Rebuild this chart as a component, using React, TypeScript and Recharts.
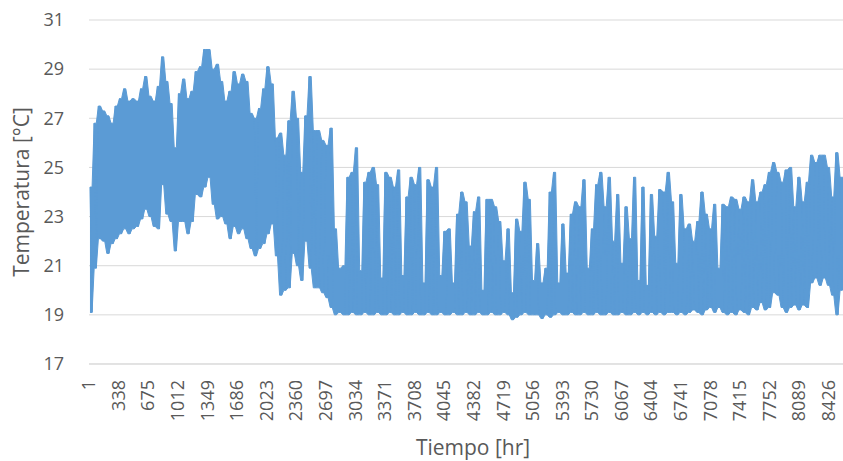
import React from 'react'
import { ComposedChart, Area, Line, CartesianGrid, XAxis, YAxis, Label } from 'recharts'

// un valor máximo y uno mínimo por cada ventana de 48 horas
const PASO = 48

const picos = [
  24.2, 26.8, 27.5, 27.3, 27.1, 26.8, 27.5, 27.8, 28.2, 27.7,
  27.8, 27.7, 28.2, 28.7, 27.9, 27.7, 28.3, 29.5, 28.5, 27.6,
  25.8, 28.0, 28.6, 27.8, 28.1, 28.9, 29.1, 29.8, 29.8, 29.0,
  29.2, 28.5, 27.7, 28.1, 28.9, 28.4, 28.8, 28.5, 27.2, 27.0,
  27.4, 28.2, 29.1, 28.4, 26.2, 26.4, 25.5, 26.9, 28.1, 27.0,
  24.8, 27.1, 28.7, 26.5, 26.5, 26.1, 25.9, 26.6, 22.5, 20.9,
  21.0, 24.6, 24.8, 25.8, 20.8, 24.4, 24.8, 25.0, 24.3, 20.5,
  24.8, 24.6, 24.2, 24.9, 20.6, 23.8, 24.6, 24.3, 25.0, 20.3,
  24.5, 24.2, 25.0, 20.6, 22.4, 22.5, 20.3, 23.1, 24.0, 23.6,
  21.8, 23.2, 23.8, 20.0, 23.7, 23.7, 23.4, 22.8, 21.2, 22.5,
  19.9, 22.9, 22.4, 24.4, 23.7, 20.4, 21.9, 20.3, 20.9, 24.0,
  24.8, 20.3, 22.7, 20.7, 23.1, 23.6, 23.4, 24.5, 20.9, 22.5,
  24.3, 24.8, 23.4, 24.6, 22.0, 23.9, 21.1, 23.4, 22.1, 24.6,
  20.4, 24.2, 20.2, 23.9, 22.2, 24.1, 24.0, 24.8, 23.6, 21.1,
  23.9, 22.5, 22.7, 22.0, 22.8, 24.0, 23.1, 22.5, 23.5, 20.9,
  23.5, 23.4, 23.8, 23.7, 23.3, 23.8, 23.6, 24.5, 23.6, 24.0,
  24.3, 24.8, 25.2, 24.8, 24.4, 24.9, 25.0, 23.4, 24.6, 23.6,
  24.4, 25.5, 25.2, 25.5, 25.5, 25.0, 23.8, 25.6, 24.6, 24.6,
  24.5, 25.0, 24.2,
]

const valles = [
  19.1, 20.9, 22.1, 22.0, 21.5, 21.9, 22.1, 22.3, 22.5, 22.3,
  22.5, 22.6, 22.9, 23.3, 23.0, 22.6, 22.5, 24.3, 23.1, 22.8,
  21.6, 22.8, 22.8, 22.3, 22.8, 23.9, 23.8, 24.2, 24.6, 23.5,
  22.9, 23.0, 22.7, 22.1, 22.6, 22.3, 22.5, 22.1, 21.7, 21.4,
  21.7, 21.9, 22.3, 22.7, 21.4, 19.8, 20.0, 20.1, 21.5, 21.0,
  20.4, 22.0, 20.9, 20.1, 20.1, 19.9, 19.7, 19.3, 19.0, 19.1,
  19.0, 19.0, 19.1, 19.0, 19.0, 19.1, 19.0, 19.0, 19.1, 19.0,
  19.0, 19.1, 19.0, 19.0, 19.1, 19.0, 19.0, 19.1, 19.0, 19.0,
  19.1, 19.0, 19.0, 19.1, 19.0, 19.0, 19.1, 19.0, 19.0, 19.1,
  19.0, 19.0, 19.1, 19.0, 19.0, 19.1, 19.0, 19.0, 19.1, 19.0,
  18.8, 18.9, 19.0, 19.1, 19.0, 19.0, 19.0, 18.85, 19.0, 18.9,
  19.0, 19.1, 19.0, 19.0, 19.1, 19.0, 19.0, 19.1, 19.0, 19.0,
  19.1, 19.0, 19.0, 19.1, 19.0, 19.0, 19.1, 19.0, 19.0, 19.1,
  19.0, 19.1, 19.0, 19.1, 19.0, 19.1, 19.0, 19.1, 19.1, 19.0,
  19.1, 19.0, 19.1, 19.2, 19.1, 19.0, 19.2, 19.3, 19.1, 19.3,
  19.1, 19.0, 19.1, 19.0, 19.2, 19.1, 19.0, 19.3, 19.2, 19.5,
  19.2, 19.3, 19.9, 19.8, 19.3, 19.1, 19.3, 19.4, 19.2, 19.4,
  19.3, 20.3, 20.5, 20.2, 20.5, 20.2, 19.8, 19.0, 20.0, 20.2,
  19.8, 19.5, 19.6,
]

const marcasX = [
  1, 338, 675, 1012, 1349, 1686, 2023, 2360, 2697, 3034, 3371, 3708, 4045,
  4382, 4719, 5056, 5393, 5730, 6067, 6404, 6741, 7078, 7415, 7752, 8089, 8426,
]
const marcasY = [17, 19, 21, 23, 25, 27, 29, 31]

// la línea horaria va de máximo a mínimo en cada ventana; la banda rellena entre ambos
const serie = picos.flatMap((p, i) => [
  { hora: i * PASO + 12, temp: p, banda: [valles[i], p] },
  { hora: i * PASO + 36, temp: valles[i], banda: [valles[i], p] },
])

const FUENTE = '"Open Sans", sans-serif'
const GRIS = '#595959'
const AZUL = '#5B9BD5'

const TickX = ({ x, payload }: any) => (
  <text
    x={x}
    y={380}
    transform={`rotate(-90 ${x} 380)`}
    textAnchor="end"
    dy="0.35em"
    fontSize={18}
    fontFamily={FUENTE}
    fill={GRIS}
  >
    {payload.value}
  </text>
)

const TickY = ({ y, payload }: any) => (
  <text x={64} y={y} dy="0.35em" textAnchor="end" fontSize={18} fontFamily={FUENTE} fill={GRIS}>
    {payload.value}
  </text>
)

export default function App() {
  return (
    <div style={{ position: 'absolute', left: 0, top: 0, width: 843, height: 461, overflow: 'hidden', background: '#fff' }}>
      <ComposedChart width={860} height={461} data={serie} margin={{ top: 20, right: 2, bottom: 0, left: 0 }}>
        <CartesianGrid stroke="#D9D9D9" vertical={false} />
        <XAxis
          dataKey="hora"
          type="number"
          domain={[1, 8760]}
          allowDataOverflow
          ticks={marcasX}
          interval={0}
          height={97}
          tickLine={false}
          axisLine={{ stroke: '#D9D9D9' }}
          tick={<TickX />}
        >
          <Label
            content={() => (
              <text x={473} y={448} textAnchor="middle" dy="0.35em" fontSize={21} fontFamily={FUENTE} fill={GRIS}>
                Tiempo [hr]
              </text>
            )}
          />
        </XAxis>
        <YAxis
          type="number"
          domain={[17, 31]}
          ticks={marcasY}
          width={89}
          tickLine={false}
          axisLine={false}
          tick={<TickY />}
        >
          <Label
            content={() => (
              <text
                x={22}
                y={192}
                transform="rotate(-90 22 192)"
                textAnchor="middle"
                dy="0.35em"
                fontSize={21}
                fontFamily={FUENTE}
                fill={GRIS}
              >
                Temperatura [°C]
              </text>
            )}
          />
        </YAxis>
        <Area
          type="linear"
          dataKey="banda"
          stroke={AZUL}
          strokeWidth={1}
          fill={AZUL}
          fillOpacity={1}
          isAnimationActive={false}
        />
        <Line
          type="linear"
          dataKey="temp"
          stroke={AZUL}
          strokeWidth={1}
          dot={false}
          isAnimationActive={false}
        />
      </ComposedChart>
    </div>
  )
}
